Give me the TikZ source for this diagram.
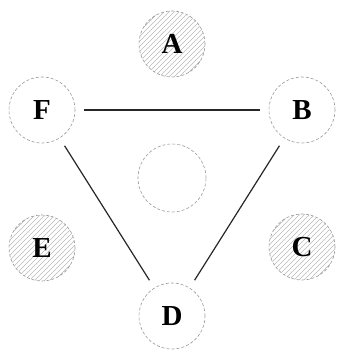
\documentclass[tikz,border=0pt]{standalone}
\usepackage{fontspec}
\setmainfont{Liberation Serif}
\begin{document}
\begin{tikzpicture}[x=1pt,y=-1pt,
  vert/.style={circle,draw=gray!80,densely dashed,line width=0.6pt,minimum size=66pt,inner sep=0pt,font=\fontsize{29}{29}\selectfont\bfseries},
  hatched/.style={vert,path picture={
    \foreach \k in {-80,-75,...,80}
      \draw[gray!55,line width=0.45pt,solid] ([xshift=\k pt]path picture bounding box.center) ++(-40pt,-40pt) -- ++(80pt,80pt);
  }},
  edge/.style={line width=1.2pt,draw=black!85,shorten >=9pt,shorten <=9pt}]
\useasboundingbox (0,0) rectangle (339,350);
\node[hatched] (A) at (172,44) {A};
\node[vert] (F) at (42,110) {F};
\node[vert] (B) at (302,110) {B};
\node[vert,minimum size=68pt] (M) at (172,178) {};
\node[hatched] (E) at (42,248) {E};
\node[hatched] (C) at (302,247) {C};
\node[vert] (D) at (172,316) {D};
\draw[edge] (F) -- (B);
\draw[edge] (F) -- (D);
\draw[edge] (B) -- (D);
\end{tikzpicture}
\end{document}
